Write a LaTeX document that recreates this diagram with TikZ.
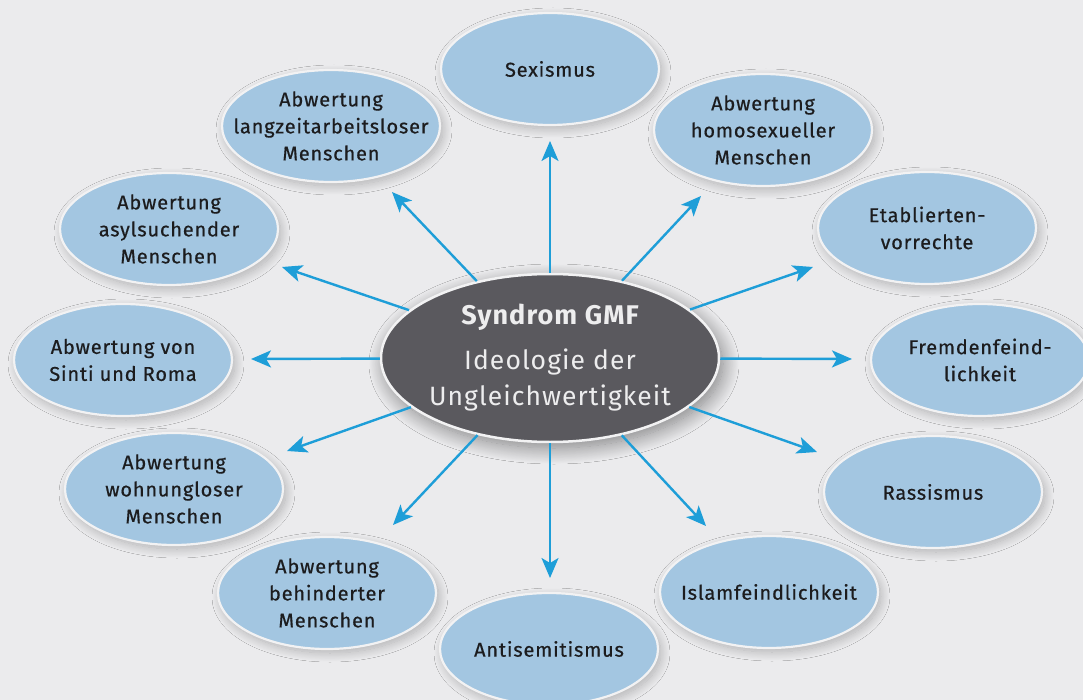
\documentclass[tikz,border=0pt]{standalone}
\usepackage{fontspec}
\setmainfont{Fira Sans}[LetterSpace=4]
\newfontfamily\labelfont{Fira Sans}[LetterSpace=4, FakeBold=0.6]
\usetikzlibrary{arrows.meta,shapes.geometric,shadows.blur}
\definecolor{bg}{HTML}{EBEBED}
\definecolor{bluefill}{HTML}{A3C6E1}
\definecolor{darkfill}{HTML}{5A595E}
\definecolor{arrowc}{HTML}{1E9ED8}
\definecolor{txt}{HTML}{1C1C1E}
\definecolor{rimc}{HTML}{F2F2F3}
\definecolor{ctxt}{HTML}{EDEDEE}
\begin{document}
\begin{tikzpicture}[x=1pt,y=-1pt,
  outer/.style={ellipse, fill=bluefill, draw=rimc, line width=2.2pt,
    minimum width=218pt, minimum height=112pt, inner xsep=-60pt, inner ysep=0pt, align=center,
    font=\labelfont\fontsize{20}{27}\selectfont, text=txt,
    blur shadow={shadow xshift=3pt, shadow yshift=-4pt, shadow blur radius=9pt, shadow blur steps=20, shadow opacity=25}},
  hub/.style={ellipse, fill=darkfill, draw=rimc, line width=2.5pt,
    minimum width=338pt, minimum height=168pt, inner xsep=-60pt, inner ysep=0pt, align=center, text=ctxt,
    font=\fontsize{26.5}{36}\selectfont,
    blur shadow={shadow xshift=4pt, shadow yshift=-6pt, shadow blur radius=16pt, shadow blur steps=24, shadow opacity=45}},
  arr/.style={draw=arrowc, line width=2.4pt, -{Stealth[length=20pt,width=17pt,inset=5pt]}}]
\fill[bg] (0,0) rectangle (1083,700);
\useasboundingbox (0,0) rectangle (1083,700);

\node[outer] (sex) at (550,69) {Sexismus};
\node[outer] (homo) at (763,130) {Abwertung\\homosexueller\\Menschen};
\node[outer] (etab) at (927,228) {Etablierten-\\vorrechte};
\node[outer] (fremd) at (980,360) {Fremdenfeind-\\lichkeit};
\node[outer] (rass) at (933,492) {Rassismus};
\node[outer] (islam) at (769,592) {Islamfeindlichkeit};
\node[outer] (anti) at (549,649) {Antisemitismus};
\node[outer] (behin) at (327,593) {Abwertung\\behinderter\\Menschen};
\node[outer] (wohn) at (174,489) {Abwertung\\wohnungloser\\Menschen};
\node[outer] (sinti) at (123,360) {Abwertung von\\Sinti und Roma};
\node[outer] (asyl) at (169,229) {Abwertung\\asylsuchender\\Menschen};
\node[outer] (lang) at (331,126) {Abwertung\\langzeitarbeitsloser\\Menschen};

\node[hub] (c) at (550,358) {{\bfseries\fontsize{27}{30}\selectfont Syndrom GMF}\\[9pt]
  Ideologie der\\Ungleichwertigkeit};

\coordinate (tsex) at (550,141);
\coordinate (thomo) at (701,196);
\coordinate (tetab) at (813,267);
\coordinate (tfremd) at (852,359);
\coordinate (trass) at (817,452);
\coordinate (tislam) at (706,526);
\coordinate (tanti) at (550,578);
\coordinate (tbehin) at (393,525);
\coordinate (twohn) at (287,451);
\coordinate (tsinti) at (251,359);
\coordinate (tasyl) at (282,267);
\coordinate (tlang) at (392,192);

\foreach \t in {tsex,thomo,tetab,tfremd,trass,tislam,tanti,tbehin,twohn,tsinti,tasyl,tlang}
  \draw[arr] (c) -- (\t);
\end{tikzpicture}
\end{document}
